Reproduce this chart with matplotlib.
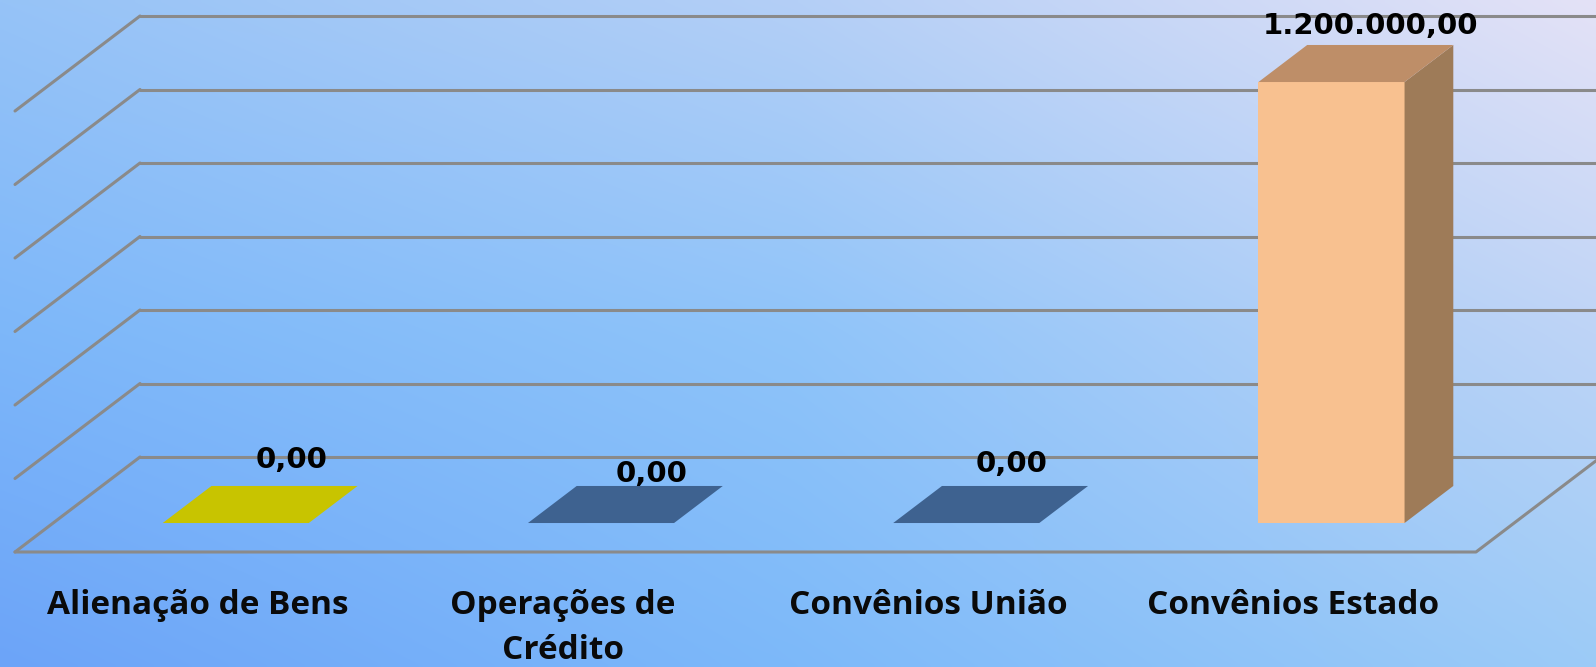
"""3D-style column chart: receitas de capital por origem."""
import matplotlib
matplotlib.use("Agg")
import matplotlib.pyplot as plt
import numpy as np

CATEGORIES = ["Alienação de Bens", "Operações de\nCrédito", "Convênios União", "Convênios Estado"]
VALUES = [0.0, 0.0, 0.0, 1200000.0]
VALUE_LABELS = ["0,00", "0,00", "0,00", "1.200.000,00"]
GRID_VALUES = [0, 200000, 400000, 600000, 800000, 1000000, 1200000]

# face colours per bar: front, top, right side
FRONT = ["#c8c400", "#3e6290", "#3e6290", "#f8c190"]
TOP = ["#c8c400", "#3e6290", "#3e6290", "#be8e68"]
SIDE = ["#a09c00", "#324f75", "#324f75", "#9e7b58"]

# pixel geometry of the original picture
W, H = 1596, 667
CAT_PX = 365.25          # width of one category on the front edge
PX_PER_UNIT = 441 / 1.2e6
X0_PX, FLOOR_PX = 15, 552
DEPTH_DX_PX, DEPTH_DY_PX = 125, 95
DX = DEPTH_DX_PX / CAT_PX
DY = DEPTH_DY_PX / PX_PER_UNIT
BAR_W, BAR_D0, BAR_D1 = 0.4, 0.305, 0.695
# small nudges of the value labels (px) relative to the back-top centre
LABEL_NUDGE = [(7, -18), (2, -4), (-3, -14), (-10, -11)]
CAT_BASELINE_PX, CAT_LINE_PX = 62, 45
CAT_FONT = ["Open Sans", "DejaVu Sans"]
VAL_FONT = ["DejaVu Sans"]
PT = 0.72  # points per pixel at dpi 100


def proj(x, y, d):
    return x + d * DX, y + d * DY


fig = plt.figure(figsize=(W / 100, H / 100), dpi=100)
ax = fig.add_axes([0, 0, 1, 1])
xlim = (-X0_PX / CAT_PX, (W - X0_PX) / CAT_PX)
ylim = (-(H - FLOOR_PX) / PX_PER_UNIT, FLOOR_PX / PX_PER_UNIT)
ax.set_xlim(*xlim)
ax.set_ylim(*ylim)
ax.axis("off")

# background gradient, bilinear over a 3x3 grid of control colours
ctrl = np.array([
    [[150, 195, 247], [180, 207, 246], [228, 226, 247]],
    [[125, 183, 250], [143, 196, 250], [190, 212, 246]],
    [[108, 164, 248], [125, 185, 250], [156, 203, 247]],
]) / 255.0
nx_, ny_ = 400, 170
gx = np.linspace(0, 2, nx_)
gy = np.linspace(0, 2, ny_)
grad = np.empty((ny_, nx_, 3))
for c in range(3):
    rows = np.array([np.interp(gx, [0, 1, 2], ctrl[r, :, c]) for r in range(3)])
    for j in range(nx_):
        grad[:, j, c] = np.interp(gy, [0, 1, 2], rows[:, j])
ax.imshow(grad, extent=(xlim[0], xlim[1], ylim[0], ylim[1]), aspect="auto",
          zorder=0, interpolation="bilinear")

ncat = len(CATEGORIES)
grid_kw = dict(color="#8a8a8a", lw=2.2, zorder=1, solid_capstyle="round")
for g in GRID_VALUES:
    xa, ya = proj(0, g, 1)
    xb, yb = proj(ncat, g, 1)
    ax.plot([xa, xb], [ya, yb], **grid_kw)
    xf, yf = proj(0, g, 0)
    ax.plot([xf, xa], [yf, ya], **grid_kw)
# floor front and right edges
xa, ya = proj(0, 0, 0)
xb, yb = proj(ncat, 0, 0)
xc, yc = proj(ncat, 0, 1)
ax.plot([xa, xb, xc], [ya, yb, yc], **grid_kw)

for i, val in enumerate(VALUES):
    x0 = i + 0.5 - BAR_W / 2
    x1 = i + 0.5 + BAR_W / 2
    front = [proj(x0, 0, BAR_D0), proj(x1, 0, BAR_D0), proj(x1, val, BAR_D0), proj(x0, val, BAR_D0)]
    topf = [proj(x0, val, BAR_D0), proj(x1, val, BAR_D0), proj(x1, val, BAR_D1), proj(x0, val, BAR_D1)]
    side = [proj(x1, 0, BAR_D0), proj(x1, 0, BAR_D1), proj(x1, val, BAR_D1), proj(x1, val, BAR_D0)]
    if val > 0:
        ax.fill(*zip(*front), color=FRONT[i], lw=0, zorder=3)
        ax.fill(*zip(*side), color=SIDE[i], lw=0, zorder=3)
    ax.fill(*zip(*topf), color=TOP[i], lw=0, zorder=3)

    bx, by = proj(i + 0.5, val, BAR_D1)
    nx, ny = LABEL_NUDGE[i]
    ax.annotate(VALUE_LABELS[i], (bx, by), xytext=(nx * PT, -ny * PT),
                textcoords="offset points", ha="center", va="baseline",
                fontsize=21, fontweight="bold", family=VAL_FONT, color="black", zorder=5)

    for j, line in enumerate(CATEGORIES[i].split("\n")):
        ax.annotate(line, (i + 0.5, 0),
                    xytext=(0, -(CAT_BASELINE_PX + j * CAT_LINE_PX) * PT),
                    textcoords="offset points", ha="center", va="baseline",
                    fontsize=24, fontweight="bold", family=CAT_FONT, color="#0a0a0a",
                    zorder=5)

fig.savefig("out.png", dpi=100)
